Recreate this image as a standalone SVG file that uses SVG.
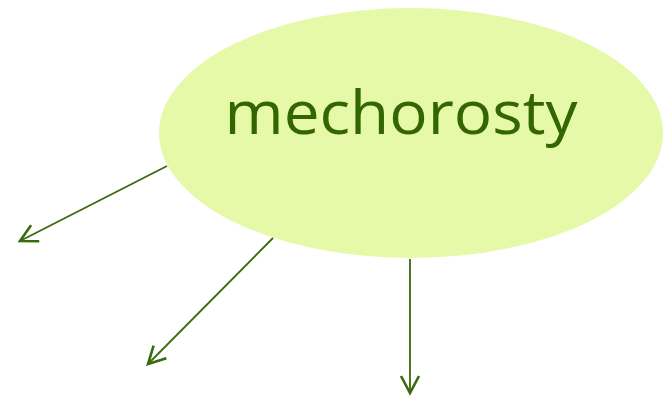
<svg xmlns="http://www.w3.org/2000/svg" width="669" height="399" viewBox="0 0 669 399">
<defs>
<style>
.edge{stroke:#3a6a0c;stroke-width:1.8;fill:none;marker-end:url(#arr)}
.lbl{font-family:"Open Sans","Noto Sans","Liberation Sans",sans-serif;font-size:60px;fill:#336600}
</style>
<marker id="arr" markerUnits="userSpaceOnUse" markerWidth="26" markerHeight="26" viewBox="-20 -13 26 26" refX="0" refY="0" orient="auto">
<path d="M-17,-9 L0,0 L-17,9" fill="none" stroke="#3a6a0c" stroke-width="2.6"/>
</marker>
</defs>
<rect width="669" height="399" fill="#ffffff"/>
<g id="node-mechorosty">
<ellipse cx="411" cy="133" rx="252" ry="125" fill="#e6f9a8"/>
<text class="lbl" x="401" y="134" text-anchor="middle" textLength="353" lengthAdjust="spacingAndGlyphs">mechorosty</text>
</g>
<g id="connectors">
<line class="edge" x1="167" y1="166" x2="20" y2="241"/>
<line class="edge" x1="273" y1="238" x2="148" y2="364"/>
<line class="edge" x1="410" y1="259" x2="410" y2="393"/>
</g>
</svg>
